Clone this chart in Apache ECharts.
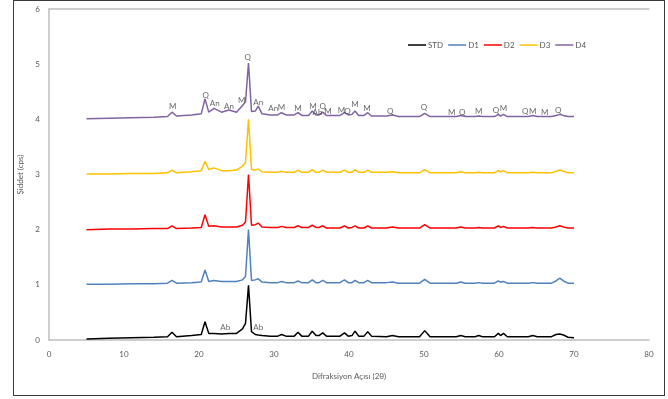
<!DOCTYPE html>
<html>
<head>
<meta charset="utf-8">
<script src="https://cdn.jsdelivr.net/npm/echarts@6/dist/echarts.min.js"></script>
<style>
  body { margin: 0; background: #fff; }
  #chart { position: absolute; left: 0; top: 0; width: 668px; height: 399px; }
  #frame { position: absolute; left: 13px; top: 0; width: 650px; height: 394px; border: 1px solid #3a3a3a; pointer-events: none; }
</style>
</head>
<body>
<div id="chart"></div>
<div id="frame"></div>
<script>
// 2θ positions shared by all patterns
const twoTheta = [5, 8, 11, 14, 15.8, 16.4, 17.0, 19, 20.3, 20.8, 21.3, 22.0, 23, 24, 25, 25.8, 26.2, 26.6, 27.0, 27.5,
  27.9, 28.4, 29.5, 30.5, 31.0, 31.6, 32.7, 33.2, 33.7, 34.6, 35.1, 35.6, 36.0, 36.5, 37.0, 38.8, 39.4, 39.9, 40.4, 40.8,
  41.3, 42.0, 42.5, 43.0, 45.0, 45.8, 46.6, 49.4, 50.1, 50.8, 54.3, 54.9, 55.5, 56.8, 57.3, 57.8, 59.4, 59.9, 60.2, 60.6,
  61.1, 63.9, 64.5, 65.1, 67.0, 67.6, 68.1, 68.6, 69.2, 70];

const stdValues = [0.02, 0.03, 0.04, 0.05, 0.06, 0.14, 0.06, 0.08, 0.10, 0.33, 0.12, 0.12, 0.11, 0.12, 0.12, 0.20, 0.30, 0.99, 0.15, 0.10,
  0.09, 0.08, 0.07, 0.07, 0.10, 0.07, 0.07, 0.14, 0.07, 0.07, 0.16, 0.08, 0.08, 0.13, 0.07, 0.07, 0.13, 0.07, 0.08, 0.16,
  0.07, 0.07, 0.15, 0.07, 0.06, 0.08, 0.06, 0.06, 0.17, 0.06, 0.06, 0.08, 0.06, 0.06, 0.08, 0.06, 0.06, 0.12, 0.08, 0.12,
  0.06, 0.06, 0.08, 0.06, 0.06, 0.10, 0.11, 0.09, 0.05, 0.04];

const d1Values = [1.01, 1.01, 1.02, 1.02, 1.03, 1.08, 1.03, 1.04, 1.05, 1.27, 1.06, 1.08, 1.06, 1.06, 1.06, 1.09, 1.15, 2.00, 1.08, 1.09,
  1.11, 1.05, 1.04, 1.04, 1.06, 1.04, 1.04, 1.07, 1.04, 1.04, 1.09, 1.04, 1.04, 1.08, 1.04, 1.04, 1.09, 1.04, 1.04, 1.08,
  1.04, 1.04, 1.08, 1.04, 1.04, 1.05, 1.03, 1.03, 1.10, 1.03, 1.03, 1.05, 1.03, 1.03, 1.04, 1.03, 1.03, 1.07, 1.05, 1.06,
  1.03, 1.03, 1.04, 1.03, 1.03, 1.07, 1.12, 1.07, 1.03, 1.03];

const d2Values = [2.00, 2.01, 2.01, 2.02, 2.02, 2.07, 2.02, 2.03, 2.04, 2.27, 2.06, 2.07, 2.05, 2.05, 2.05, 2.08, 2.14, 3.00, 2.08, 2.09,
  2.12, 2.05, 2.04, 2.04, 2.06, 2.04, 2.04, 2.07, 2.04, 2.04, 2.08, 2.04, 2.04, 2.07, 2.03, 2.03, 2.07, 2.03, 2.04, 2.07,
  2.03, 2.03, 2.07, 2.03, 2.03, 2.05, 2.03, 2.03, 2.09, 2.03, 2.03, 2.05, 2.03, 2.03, 2.04, 2.03, 2.03, 2.07, 2.04, 2.06,
  2.03, 2.03, 2.04, 2.03, 2.03, 2.05, 2.07, 2.05, 2.03, 2.03];

const d3Values = [3.01, 3.01, 3.02, 3.02, 3.03, 3.08, 3.03, 3.05, 3.07, 3.24, 3.09, 3.12, 3.07, 3.07, 3.08, 3.15, 3.22, 4.00, 3.09, 3.08,
  3.10, 3.05, 3.04, 3.04, 3.06, 3.04, 3.04, 3.08, 3.04, 3.04, 3.09, 3.04, 3.04, 3.08, 3.04, 3.04, 3.08, 3.04, 3.04, 3.09,
  3.04, 3.04, 3.08, 3.04, 3.04, 3.05, 3.03, 3.03, 3.09, 3.03, 3.03, 3.05, 3.03, 3.03, 3.04, 3.03, 3.03, 3.07, 3.05, 3.07,
  3.03, 3.03, 3.04, 3.03, 3.03, 3.06, 3.08, 3.06, 3.03, 3.03];

const d4Values = [4.01, 4.02, 4.03, 4.04, 4.05, 4.13, 4.06, 4.08, 4.10, 4.37, 4.13, 4.20, 4.13, 4.17, 4.13, 4.25, 4.32, 5.02, 4.14, 4.15,
  4.24, 4.10, 4.08, 4.08, 4.12, 4.08, 4.08, 4.12, 4.07, 4.07, 4.15, 4.08, 4.08, 4.13, 4.07, 4.07, 4.12, 4.08, 4.09, 4.15,
  4.07, 4.07, 4.12, 4.06, 4.06, 4.08, 4.05, 4.05, 4.11, 4.05, 4.05, 4.07, 4.05, 4.05, 4.06, 4.05, 4.05, 4.09, 4.06, 4.09,
  4.05, 4.05, 4.07, 4.05, 4.05, 4.07, 4.09, 4.07, 4.05, 4.05];

const seriesNames = ['STD', 'D1', 'D2', 'D3', 'D4'];
const seriesColors = ['#000000', '#4f81bd', '#ff0000', '#ffc000', '#8064a2'];

// phase labels (M: mika, Q: kuvars, An: anortit, Ab: albit)
const peakText = ['M', 'Q', 'An', 'An', 'M', 'Q', 'An', 'An', 'M', 'M', 'M', 'Ab', 'Q', 'M', 'M', 'Q', 'M', 'M',
  'Q', 'Q', 'M', 'Q', 'M', 'Q', 'M', 'Q', 'M', 'M', 'Q', 'Ab', 'Ab'];
const peakX = [16.5, 20.9, 22.1, 24.0, 25.7, 26.5, 27.9, 29.9, 31.0, 33.2, 35.2, 35.8, 36.5, 37.2, 39.0, 39.8, 40.8, 42.4,
  45.5, 50.0, 53.7, 55.1, 57.3, 59.6, 60.6, 63.5, 64.5, 66.1, 67.9, 23.5, 27.9];
const peakY = [4.23, 4.43, 4.28, 4.24, 4.34, 5.12, 4.30, 4.19, 4.21, 4.19, 4.24, 4.13, 4.23, 4.15, 4.16, 4.15, 4.27, 4.19,
  4.15, 4.21, 4.13, 4.13, 4.14, 4.16, 4.19, 4.14, 4.14, 4.12, 4.16, 0.22, 0.22];

const chart = echarts.init(document.getElementById('chart'));
const allValues = [stdValues, d1Values, d2Values, d3Values, d4Values];
const textFont = 'Lato, "Open Sans", sans-serif';

const lineSeries = seriesNames.map((name, i) => ({
  name: name,
  type: 'line',
  data: twoTheta.map((t, j) => [t, allValues[i][j]]),
  symbol: 'none',
  lineStyle: { width: 1.5, color: seriesColors[i] },
  itemStyle: { color: seriesColors[i] },
  animation: false
}));

const labelSeries = {
  name: 'labels',
  type: 'scatter',
  symbolSize: 0,
  silent: true,
  animation: false,
  data: peakText.map((s, i) => [peakX[i], peakY[i], s]),
  label: {
    show: true,
    position: 'inside',
    formatter: p => p.value[2],
    color: '#404040',
    fontSize: 8,
    fontFamily: textFont
  },
  z: 5
};

const option = {
  backgroundColor: '#fff',
  textStyle: { fontFamily: textFont },
  legend: {
    data: seriesNames,
    left: 403,
    top: 36,
    width: 260,
    icon: 'rect',
    itemWidth: 18,
    itemHeight: 1.5,
    itemGap: 5,
    textStyle: { fontSize: 8, color: '#595959', padding: [0, 0, 0, -3] }
  },
  grid: { left: 49, right: 19, top: 9, bottom: 59 },
  xAxis: [{
    type: 'value',
    min: 0,
    max: 80,
    interval: 10,
    name: 'Difraksiyon Açısı (2θ)',
    nameLocation: 'middle',
    nameGap: 32,
    nameTextStyle: { fontSize: 8, color: '#595959' },
    axisLine: { lineStyle: { color: '#bfbfbf', width: 1.5 } },
    axisTick: { show: false },
    splitLine: { show: false },
    axisLabel: { fontSize: 8, color: '#595959', margin: 10 }
  }, {
    type: 'value',
    position: 'top',
    min: 0,
    max: 80,
    axisLine: { show: true, lineStyle: { color: '#bfbfbf', width: 1.5 } },
    axisTick: { show: false },
    axisLabel: { show: false },
    splitLine: { show: false }
  }],
  yAxis: {
    type: 'value',
    min: 0,
    max: 6,
    interval: 1,
    name: 'Şiddet (cps)',
    nameLocation: 'middle',
    nameGap: 18,
    nameTextStyle: { fontSize: 8, color: '#595959' },
    axisLine: { show: true, lineStyle: { color: '#bfbfbf', width: 1.5 } },
    axisTick: { show: false },
    splitLine: { show: false },
    axisLabel: { fontSize: 8, color: '#595959', margin: 9 }
  },
  series: lineSeries.concat([labelSeries])
};

chart.setOption(option);
</script>
</body>
</html>
